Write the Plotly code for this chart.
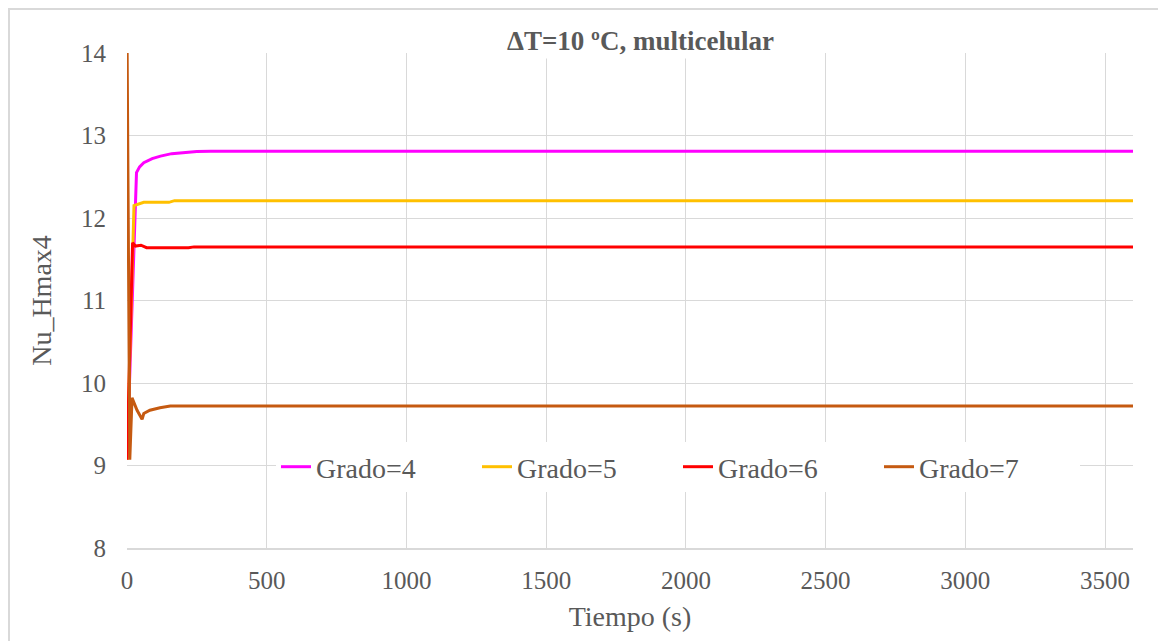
import plotly.graph_objects as go

# ---- data ----
series_names = ["Grado=4", "Grado=5", "Grado=6", "Grado=7"]

t_g4 = [0, 30, 34, 45, 60, 90, 120, 160, 200, 250, 300, 3600]
nu_g4 = [9.1, 12.2, 12.55, 12.62, 12.67, 12.72, 12.75, 12.78, 12.795, 12.805, 12.81, 12.81]

t_g5 = [0, 25, 60, 150, 170, 3600]
nu_g5 = [9.07, 12.15, 12.19, 12.19, 12.21, 12.21]

t_g6 = [0, 20, 30, 50, 70, 220, 240, 3600]
nu_g6 = [9.07, 11.70, 11.66, 11.67, 11.64, 11.64, 11.65, 11.65]

t_g7 = [0, 10, 18, 30, 36, 54, 60, 82, 118, 155, 3600]
nu_g7 = [14.3, 9.07, 9.82, 9.71, 9.67, 9.56, 9.63, 9.67, 9.70, 9.72, 9.72]

x_ticks = [0, 500, 1000, 1500, 2000, 2500, 3000, 3500]
y_ticks = [8, 9, 10, 11, 12, 13, 14]

title_text = "ΔT=10 ºC, multicelular"
x_title = "Tiempo (s)"
y_title = "Nu_Hmax4"

# ---- styling ----
colors = ["#FF00FF", "#FFC000", "#FF0000", "#C55A11"]
FONT = "Liberation Serif"
TXT = "#595959"
GRID = "#D9D9D9"

# the page body has an 8px margin, so the figure is sized to fit the window
W, H = 1158, 633
ML, MR, MT, MB = 119, 33, 45, 93

fig = go.Figure()
for name, t, v, c in zip(series_names, [t_g4, t_g5, t_g6, t_g7],
                         [nu_g4, nu_g5, nu_g6, nu_g7], colors):
    fig.add_trace(go.Scatter(x=t, y=v, mode="lines", name=name,
                             line=dict(color=c, width=3)))

pw = W - ML - MR
ph = H - MT - MB

fig.update_layout(
    width=W, height=H,
    margin=dict(l=ML, r=MR, t=MT, b=MB, pad=0),
    paper_bgcolor="white", plot_bgcolor="white",
    font=dict(family=FONT, color=TXT, size=25),
    showlegend=True,
    legend=dict(
        orientation="h", x=(268 - ML) / pw, xanchor="left",
        y=(H - MB - 459) / ph, yanchor="middle",
        bgcolor="white", font=dict(family=FONT, size=28, color=TXT),
        entrywidth=156, entrywidthmode="pixels",
        itemwidth=30, traceorder="normal",
    ),
    xaxis=dict(
        range=[0, 3600], tickvals=x_ticks, showgrid=True, gridcolor=GRID,
        gridwidth=1, showline=True, linecolor=GRID, linewidth=1.5,
        zeroline=False, ticks="", ticklabelstandoff=9,
        tickfont=dict(family=FONT, size=25, color=TXT),
        title=dict(text=x_title, font=dict(family=FONT, size=28, color=TXT),
                   standoff=14),
    ),
    yaxis=dict(
        range=[8, 14], tickvals=y_ticks, showgrid=True, gridcolor=GRID,
        gridwidth=1, showline=False, zeroline=False, ticks="",
        ticklabelstandoff=20,
        tickfont=dict(family=FONT, size=25, color=TXT),
        title=dict(text=y_title, font=dict(family=FONT, size=28, color=TXT),
                   standoff=21),
    ),
)

# chart title with white box (covers top gridline like Excel)
fig.add_annotation(
    text="<b>" + title_text + "</b>", xref="paper", yref="paper",
    x=(632 - ML) / pw, y=1, xanchor="center", yanchor="middle", yshift=12,
    showarrow=False, bgcolor="white", borderpad=2,
    font=dict(family=FONT, size=27, color=TXT),
)

# outer chart-area border
fig.add_shape(
    type="rect", xref="paper", yref="paper",
    x0=(1 - ML) / pw, x1=(W + 20 - ML) / pw,
    y0=(H - MB - (H + 20)) / ph, y1=(H - MB - 1) / ph,
    line=dict(color=GRID, width=2), fillcolor="rgba(0,0,0,0)", layer="below",
)

fig.write_html("out.html")
